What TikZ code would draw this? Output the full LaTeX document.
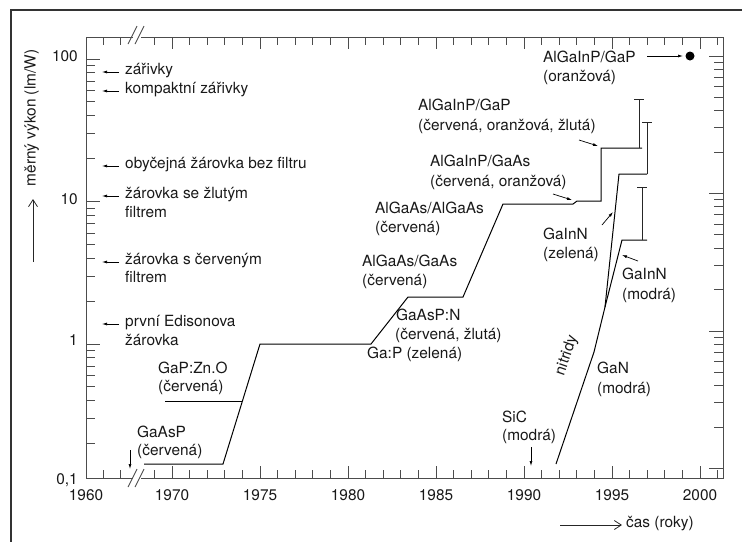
\documentclass[tikz,border=0pt]{standalone}
\usepackage{fontspec}
\setmainfont{TeX Gyre Heros}
\usetikzlibrary{arrows.meta}
\definecolor{axcol}{gray}{0.30}
\definecolor{txtcol}{gray}{0.10}
\begin{document}
\begin{tikzpicture}[x=1pt,y=-1pt,
  lbl/.style={anchor=west,inner sep=0pt,font=\fontsize{15.4}{18}\selectfont,text height=0.72em,text depth=0.2em,text=txtcol},
  ax/.style={draw=axcol,line width=0.9pt},
  dl/.style={draw=black,line width=1pt,line join=miter},
  ebar/.style={draw=black!85,line width=0.9pt},
  sarr/.style={draw=black,line width=0.7pt,-{Latex[length=5pt,width=3pt]}},
  bigarr/.style={draw=black!85,line width=0.8pt,-{Straight Barb[length=7pt,width=9pt]}},
  frame/.style={draw=black!80,line width=1.2pt}]
\useasboundingbox (0,0) rectangle (742,542);
% outer frame (cropped)
\draw[frame] (742,10) -- (11,10) -- (11,542);
% axes with break
\draw[ax] (133,37) -- (86,37) -- (86,478) -- (133,478);
\draw[ax] (141,478) -- (723,478) -- (723,37) -- (141,37);
\draw[ax] (128,487) -- (137,469) (135,487) -- (144,469);
\draw[ax] (128,44) -- (137,26) (135,44) -- (144,26);
% x ticks
\foreach \yr in {1961,1962}{
  \pgfmathsetmacro\xx{86+17*(\yr-1960)}
  \draw[ax] (\xx,478) -- ++(0,-8);
  \draw[ax] (\xx,37) -- ++(0,8);
}
\foreach \yr in {1969,...,2001}{
  \pgfmathsetmacro\xx{172+17.6*(\yr-1970)}
  \pgfmathsetmacro\tl{mod(\yr,5)==0 ? 12 : 8}
  \draw[ax] (\xx,478) -- ++(0,-\tl);
  \draw[ax] (\xx,37) -- ++(0,\tl);
}
% left y ticks
\foreach \d in {-1,0,1}{
  \foreach \m in {2,...,9}{
    \pgfmathsetmacro\yy{344-142.5*(\d+ln(\m)/ln(10))}
    \draw[ax] (86,\yy) -- ++(9,0);
  }
}
\foreach \yy in {59,201.5,344}{\draw[ax] (86,\yy) -- ++(14,0);}
% right y ticks
\foreach \d in {-1,0,1}{
  \foreach \m in {2,...,9}{
    \pgfmathsetmacro\yy{331-137.5*(\d+ln(\m)/ln(10))}
    \draw[ax] (723,\yy) -- ++(-9,0);
  }
}
\foreach \yy in {56,193.5,331,468.5}{\draw[ax] (723,\yy) -- ++(-14,0);}
% axis numbers
\node[lbl,anchor=east] (y100) at (78,59) {100};
\node[lbl,anchor=east] (y10) at (78,202) {10};
\node[lbl,anchor=east] (y1) at (78,343) {1};
\node[lbl,anchor=east] (y01) at (78,482) {0,1};
\foreach \yr/\xx in {1960/86,1970/172,1975/260,1980/348,1985/436,1990/524,1995/612,2000/700}{
  \node[lbl,anchor=center] (x\yr) at (\xx,498) {\yr};
}
% axis titles
\node[lbl,anchor=center,rotate=90] (ytitle) at (33,118) {měrný výkon (lm/W)};
\coordinate (ya0) at (33,262); \coordinate (ya1) at (33,199);
\draw[bigarr] (ya0) -- (ya1);
\coordinate (xa0) at (560,525); \coordinate (xa1) at (622,525);
\draw[bigarr] (xa0) -- (xa1);
\node[lbl] (xtitle) at (626,525) {čas (roky)};
% reference lamps
\node[lbl] (l1) at (125,72) {zářivky};
\node[lbl] (l2) at (125,91) {kompaktní zářivky};
\node[lbl] (l3) at (125,166) {obyčejná žárovka bez filtru};
\node[lbl] (l4a) at (125,196) {žárovka se žlutým};
\node[lbl] (l4b) at (125,215) {filtrem};
\node[lbl] (l5a) at (125,262) {žárovka s červeným};
\node[lbl] (l5b) at (125,280) {filtrem};
\node[lbl] (l6a) at (125,324) {první Edisonova};
\node[lbl] (l6b) at (125,343) {žárovka};
\foreach \n/\yy in {1/72,2/91,3/166,4/196,5/262,6/324}{
  \coordinate (la\n) at (119,\yy); \coordinate (lb\n) at (102,\yy);
  \draw[sarr] (la\n) -- (lb\n);
}
% LED labels
\node[lbl] (t1a) at (158,371) {GaP:Zn.O};
\node[lbl] (t1b) at (158,389) {(červená)};
\node[lbl] (t2a) at (137,435) {GaAsP};
\node[lbl] (t2b) at (137,453) {(červená)};
\node[lbl] (t3) at (367,356) {Ga:P (zelená)};
\node[lbl] (t4a) at (396,318) {GaAsP:N};
\node[lbl] (t4b) at (395,337) {(červená, žlutá)};
\node[lbl] (t5a) at (362,264) {AlGaAs/GaAs};
\node[lbl] (t5b) at (362,283) {(červená)};
\node[lbl] (t6a) at (375,211) {AlGaAs/AlGaAs};
\node[lbl] (t6b) at (375,230) {(červená)};
\node[lbl] (t7a) at (430,164) {AlGaInP/GaAs};
\node[lbl] (t7b) at (430,184) {(červená, oranžová)};
\node[lbl] (t8a) at (418,108) {AlGaInP/GaP};
\node[lbl] (t8b) at (418,128) {(červená, oranžová, žlutá)};
\node[lbl] (t9a) at (543,60) {AlGaInP/GaP};
\node[lbl] (t9b) at (543,79) {(oranžová)};
\node[lbl] (t10a) at (543,237) {GaInN};
\node[lbl] (t10b) at (543,256) {(zelená)};
\node[lbl] (t11a) at (622,277) {GaInN};
\node[lbl] (t11b) at (622,297) {(modrá)};
\node[lbl] (t12a) at (597,371) {GaN};
\node[lbl] (t12b) at (597,391) {(modrá)};
\node[lbl] (t13a) at (502,420) {SiC};
\node[lbl] (t13b) at (502,438) {(modrá)};
\node[lbl,anchor=center,rotate=71] (nit) at (568,356) {nitridy};
% data lines
\draw[dl] (144,464) -- (223,464) -- (260,344) -- (371,344) -- (408,297) -- (463,297)
  -- (503,204) -- (573,204) -- (577,201) -- (601,201) -- (601,148) -- (642,148);
\draw[dl] (165,401) -- (242,401);
\draw[dl] (556,464) -- (594,352) -- (605,307) -- (619,174) -- (647,174);
\draw[dl] (605,307) -- (622,240) -- (647,240);
% error bars
\draw[ebar] (639,148) -- (639,99) (634,99) -- (644,99);
\draw[ebar] (647,174) -- (647,122) (642,122) -- (652,122);
\draw[ebar] (642,240) -- (642,187) (637,187) -- (647,187);
% dot
\fill[black] (690,56) circle (4.5);
% pointer arrows
\coordinate (p1s) at (647,56); \coordinate (p1e) at (683,56);
\coordinate (p2s) at (579,140); \coordinate (p2e) at (598,146);
\coordinate (p3s) at (553,194); \coordinate (p3e) at (572,200);
\coordinate (p4s) at (602,225); \coordinate (p4e) at (613,212);
\coordinate (p5s) at (638,261); \coordinate (p5e) at (622,255);
\coordinate (p6s) at (130,450); \coordinate (p6e) at (130,469);
\coordinate (p7s) at (531,447); \coordinate (p7e) at (531,466);
\foreach \i in {1,...,7}{\draw[sarr] (p\i s) -- (p\i e);}
\end{tikzpicture}
\end{document}
